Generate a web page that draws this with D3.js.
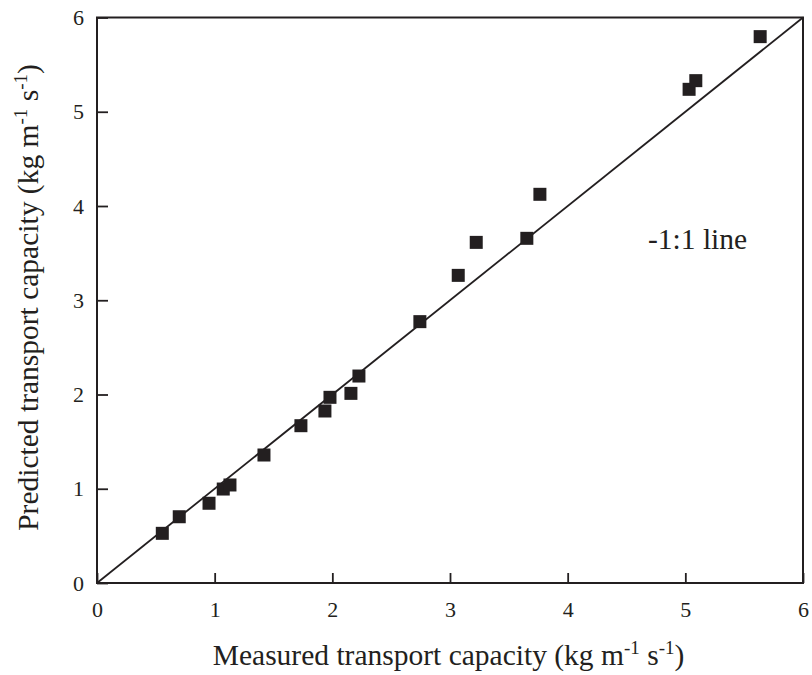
<!DOCTYPE html>
<html>
<head>
<meta charset="utf-8">
<script src="https://cdn.jsdelivr.net/npm/d3@7/dist/d3.min.js"></script>
<style>
  html, body { margin: 0; padding: 0; background: #fff; }
  svg text { font-family: "Liberation Serif", "Times New Roman", serif; fill: #231f20; }
</style>
</head>
<body>
<script>
const measured  = [0.555, 0.699, 0.952, 1.073, 1.130, 1.419, 1.733, 1.937, 1.980, 2.158, 2.226, 2.744, 3.070, 3.223, 3.653, 3.764, 5.032, 5.089, 5.636];
const predicted = [0.527, 0.703, 0.846, 0.997, 1.040, 1.358, 1.669, 1.825, 1.970, 2.012, 2.196, 2.773, 3.264, 3.614, 3.657, 4.124, 5.238, 5.330, 5.797];
const xTicks = [0, 1, 2, 3, 4, 5, 6];
const yTicks = [0, 1, 2, 3, 4, 5, 6];
const lineLabel = "-1:1 line";

const W = 812, H = 675;
const m = { left: 97, right: 9, top: 17.5, bottom: 92 };
const ink = "#231f20";

const svg = d3.select("body").append("svg").attr("width", W).attr("height", H);

const x = d3.scaleLinear().domain([0, 6]).range([m.left, W - m.right]);
const y = d3.scaleLinear().domain([0, 6]).range([H - m.bottom, m.top]);

// 1:1 line
svg.append("line")
  .attr("x1", x(0)).attr("y1", y(0)).attr("x2", x(6)).attr("y2", y(6))
  .attr("stroke", ink).attr("stroke-width", 1.8);

// axes with inward ticks
const xAxis = svg.append("g").attr("transform", `translate(0,${y(0)})`)
  .call(d3.axisBottom(x).tickValues(xTicks).tickSize(-10).tickPadding(18).tickFormat(d3.format("d")));
const yAxis = svg.append("g").attr("transform", `translate(${x(0)},0)`)
  .call(d3.axisLeft(y).tickValues(yTicks).tickSize(-11).tickPadding(13).tickFormat(d3.format("d")));
[xAxis, yAxis].forEach(g => {
  g.attr("font-family", null);
  g.select(".domain").remove();
  g.selectAll(".tick line").attr("stroke", ink).attr("stroke-width", 1.8);
  g.selectAll(".tick text").style("font-size", "22px").attr("fill", ink);
});
xAxis.selectAll(".tick text").attr("dy", "0.71em");

// frame
svg.append("rect")
  .attr("x", x(0)).attr("y", y(6))
  .attr("width", x(6) - x(0)).attr("height", y(0) - y(6))
  .attr("fill", "none").attr("stroke", ink).attr("stroke-width", 2);

// points
const s = 13;
svg.append("g").selectAll("rect").data(measured.map((d, i) => [d, predicted[i]]))
  .join("rect")
  .attr("x", d => x(d[0]) - s / 2).attr("y", d => y(d[1]) - s / 2)
  .attr("width", s).attr("height", s).attr("fill", ink);

// label
svg.append("text").attr("x", 648).attr("y", 249).style("font-size", "29.5px").text(lineLabel);

// axis titles
function title(t, main) {
  t.append("tspan").text(main + " (kg m");
  t.append("tspan").attr("dy", -11).style("font-size", "19px").text("-1");
  t.append("tspan").attr("dy", 11).text(" s");
  t.append("tspan").attr("dy", -11).style("font-size", "19px").text("-1");
  t.append("tspan").attr("dy", 11).text(")");
}
const xt = svg.append("text").attr("x", 448.5).attr("y", 665)
  .attr("text-anchor", "middle").style("font-size", "29.5px");
title(xt, "Measured transport capacity");

const yt = svg.append("text")
  .attr("transform", `translate(38,297.5) rotate(-90)`)
  .attr("text-anchor", "middle").style("font-size", "29.5px");
title(yt, "Predicted transport capacity");
</script>
</body>
</html>
